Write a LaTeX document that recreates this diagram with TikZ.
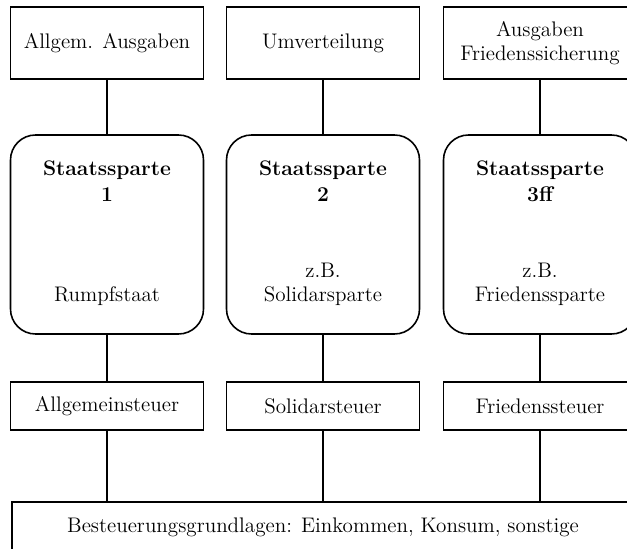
\documentclass[tikz,border=0pt]{standalone}
\usepackage{tikz}
\usetikzlibrary{positioning}
\tikzset{
    box/.style = {
        draw,
        shape=rectangle,
        minimum height=1.44cm,
        minimum width=3.86cm,
        line width=0.6pt,
        align=center
    },
    sparte/.style = {
        draw,
        shape=rectangle,
        rounded corners=0.5cm,
        minimum height=3.98cm,
        minimum width=3.86cm,
        line width=0.9pt
    },
    steuer/.style = {
        draw,
        shape=rectangle,
        minimum height=0.96cm,
        minimum width=3.86cm,
        line width=0.6pt
    },
    basis/.style = {
        draw,
        shape=rectangle,
        minimum height=1.0cm,
        minimum width=12.44cm,
        line width=0.6pt
    },
    titel/.style = {
        inner sep=0pt,
        align=center,
        font=\fontsize{12}{15}\selectfont\bfseries
    },
    bsp/.style = {
        inner sep=0pt,
        align=center
    },
    link/.style = {
        line width=0.6pt
    },
}

\begin{document}
\begin{tikzpicture}[font=\fontsize{12}{13.5}\selectfont]
                \clip (0,0) rectangle (12.54,-10.98);

                \node[box] (ausg1) at (2.14,-0.86) {Allgem. Ausgaben};
                \node[box] (ausg2) at (6.46,-0.86) {Umverteilung};
                \node[box] (ausg3) at (10.8,-0.86) {Ausgaben\\Friedenssicherung};

                \node[sparte] (sparte1) at (2.14,-4.69) {};
                \node[sparte] (sparte2) at (6.46,-4.69) {};
                \node[sparte] (sparte3) at (10.8,-4.69) {};

                \node[titel, below=0.52cm of sparte1.north] (titel1) {Staatssparte\\1};
                \node[titel, below=0.52cm of sparte2.north] (titel2) {Staatssparte\\2};
                \node[titel, below=0.52cm of sparte3.north] (titel3) {Staatssparte\\3ff};
                \node[bsp, above=0.58cm of sparte1.south] (bsp1) {Rumpfstaat};
                \node[bsp, above=0.58cm of sparte2.south] (bsp2) {z.B.\\Solidarsparte};
                \node[bsp, above=0.58cm of sparte3.south] (bsp3) {z.B.\\Friedenssparte};

                \node[steuer] (steuer1) at (2.14,-8.12) {Allgemeinsteuer};
                \node[steuer] (steuer2) at (6.46,-8.12) {Solidarsteuer};
                \node[steuer] (steuer3) at (10.8,-8.12) {Friedenssteuer};

                \node[basis] (basis) at (6.46,-10.54) {Besteuerungsgrundlagen: Einkommen, Konsum, sonstige};

                \path[draw, link] (ausg1) -- (sparte1);
                \path[draw, link] (ausg2) -- (sparte2);
                \path[draw, link] (ausg3) -- (sparte3);
                \path[draw, link] (sparte1) -- (steuer1);
                \path[draw, link] (sparte2) -- (steuer2);
                \path[draw, link] (sparte3) -- (steuer3);
                \path[draw, link] (steuer1) -- (steuer1 |- basis.north);
                \path[draw, link] (steuer2) -- (steuer2 |- basis.north);
                \path[draw, link] (steuer3) -- (steuer3 |- basis.north);
\end{tikzpicture}
\end{document}
